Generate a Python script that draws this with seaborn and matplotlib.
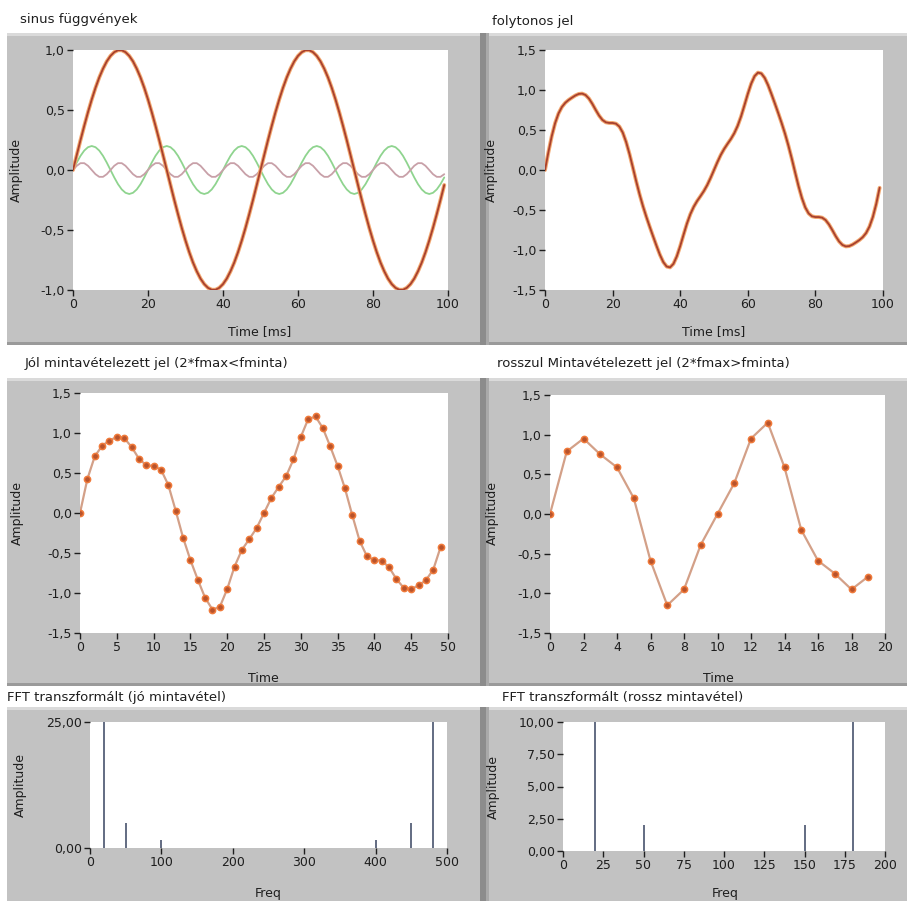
import matplotlib
matplotlib.use("Agg")
import matplotlib.pyplot as plt
from matplotlib.patches import Rectangle
from matplotlib.ticker import FuncFormatter, MultipleLocator
import seaborn as sns

# ---------------- data ----------------
time_ms = list(range(100))

sine_20hz = [
    0.000, 0.125, 0.249, 0.368, 0.482, 0.588, 0.685, 0.771, 0.844, 0.905,
    0.951, 0.982, 0.998, 0.998, 0.982, 0.951, 0.905, 0.844, 0.771, 0.685,
    0.588, 0.482, 0.368, 0.249, 0.125, 0.000, -0.125, -0.249, -0.368, -0.482,
    -0.588, -0.685, -0.771, -0.844, -0.905, -0.951, -0.982, -0.998, -0.998, -0.982,
    -0.951, -0.905, -0.844, -0.771, -0.685, -0.588, -0.482, -0.368, -0.249, -0.125,
    0.000, 0.125, 0.249, 0.368, 0.482, 0.588, 0.685, 0.771, 0.844, 0.905,
    0.951, 0.982, 0.998, 0.998, 0.982, 0.951, 0.905, 0.844, 0.771, 0.685,
    0.588, 0.482, 0.368, 0.249, 0.125, 0.000, -0.125, -0.249, -0.368, -0.482,
    -0.588, -0.685, -0.771, -0.844, -0.905, -0.951, -0.982, -0.998, -0.998, -0.982,
    -0.951, -0.905, -0.844, -0.771, -0.685, -0.588, -0.482, -0.368, -0.249, -0.125,
]

sine_50hz = [
    0.000, 0.062, 0.118, 0.162, 0.190, 0.200, 0.190, 0.162, 0.118, 0.062,
    0.000, -0.062, -0.118, -0.162, -0.190, -0.200, -0.190, -0.162, -0.118, -0.062,
    0.000, 0.062, 0.118, 0.162, 0.190, 0.200, 0.190, 0.162, 0.118, 0.062,
    0.000, -0.062, -0.118, -0.162, -0.190, -0.200, -0.190, -0.162, -0.118, -0.062,
    0.000, 0.062, 0.118, 0.162, 0.190, 0.200, 0.190, 0.162, 0.118, 0.062,
    0.000, -0.062, -0.118, -0.162, -0.190, -0.200, -0.190, -0.162, -0.118, -0.062,
    0.000, 0.062, 0.118, 0.162, 0.190, 0.200, 0.190, 0.162, 0.118, 0.062,
    0.000, -0.062, -0.118, -0.162, -0.190, -0.200, -0.190, -0.162, -0.118, -0.062,
    0.000, 0.062, 0.118, 0.162, 0.190, 0.200, 0.190, 0.162, 0.118, 0.062,
    0.000, -0.062, -0.118, -0.162, -0.190, -0.200, -0.190, -0.162, -0.118, -0.062,
]

sine_100hz = [
    0.000, 0.035, 0.057, 0.057, 0.035, 0.000, -0.035, -0.057, -0.057, -0.035,
    0.000, 0.035, 0.057, 0.057, 0.035, 0.000, -0.035, -0.057, -0.057, -0.035,
    0.000, 0.035, 0.057, 0.057, 0.035, 0.000, -0.035, -0.057, -0.057, -0.035,
    0.000, 0.035, 0.057, 0.057, 0.035, 0.000, -0.035, -0.057, -0.057, -0.035,
    0.000, 0.035, 0.057, 0.057, 0.035, 0.000, -0.035, -0.057, -0.057, -0.035,
    0.000, 0.035, 0.057, 0.057, 0.035, 0.000, -0.035, -0.057, -0.057, -0.035,
    0.000, 0.035, 0.057, 0.057, 0.035, 0.000, -0.035, -0.057, -0.057, -0.035,
    0.000, 0.035, 0.057, 0.057, 0.035, 0.000, -0.035, -0.057, -0.057, -0.035,
    0.000, 0.035, 0.057, 0.057, 0.035, 0.000, -0.035, -0.057, -0.057, -0.035,
    0.000, 0.035, 0.057, 0.057, 0.035, 0.000, -0.035, -0.057, -0.057, -0.035,
]

continuous = [
    0.000, 0.222, 0.424, 0.587, 0.707, 0.788, 0.840, 0.876, 0.905, 0.932,
    0.951, 0.955, 0.937, 0.893, 0.827, 0.751, 0.680, 0.625, 0.596, 0.588,
    0.588, 0.579, 0.543, 0.468, 0.350, 0.200, 0.030, -0.144, -0.307, -0.455,
    -0.588, -0.712, -0.832, -0.949, -1.060, -1.151, -1.207, -1.217, -1.173, -1.079,
    -0.951, -0.808, -0.669, -0.552, -0.460, -0.388, -0.327, -0.263, -0.188, -0.098,
    0.000, 0.098, 0.188, 0.263, 0.327, 0.388, 0.460, 0.552, 0.669, 0.808,
    0.951, 1.079, 1.173, 1.217, 1.207, 1.151, 1.060, 0.949, 0.832, 0.712,
    0.588, 0.455, 0.307, 0.144, -0.030, -0.200, -0.350, -0.468, -0.543, -0.579,
    -0.588, -0.588, -0.596, -0.625, -0.680, -0.751, -0.827, -0.893, -0.937, -0.955,
    -0.951, -0.932, -0.905, -0.876, -0.840, -0.788, -0.707, -0.587, -0.424, -0.222,
]

good_index = list(range(50))
good_samples = [
    0.000, 0.424, 0.707, 0.840, 0.905, 0.951, 0.937, 0.827, 0.680, 0.596,
    0.588, 0.543, 0.350, 0.030, -0.307, -0.588, -0.832, -1.060, -1.207, -1.173,
    -0.951, -0.669, -0.460, -0.327, -0.188, 0.000, 0.188, 0.327, 0.460, 0.669,
    0.951, 1.173, 1.207, 1.060, 0.832, 0.588, 0.307, -0.030, -0.350, -0.543,
    -0.588, -0.596, -0.680, -0.827, -0.937, -0.951, -0.905, -0.840, -0.707, -0.424,
]

bad_index = list(range(20))
bad_samples = [
    0.000, 0.788, 0.951, 0.751, 0.588, 0.200, -0.588, -1.151, -0.951, -0.388,
    0.000, 0.388, 0.951, 1.151, 0.588, -0.200, -0.588, -0.751, -0.951, -0.788,
]

fft_good_freq = [20, 50, 100, 400, 450, 480]
fft_good_mag = [25.0, 5.0, 1.5, 1.5, 5.0, 25.0]
fft_bad_freq = [20, 50, 150, 180]
fft_bad_mag = [10.0, 2.0, 2.0, 10.0]

titles = [
    "sinus függvények", "folytonos jel",
    "Jól mintavételezett jel (2*fmax<fminta)",
    "rosszul Mintavételezett jel (2*fmax>fminta)",
    "FFT transzformált (jó mintavétel)",
    "FFT transzformált (rossz mintavétel)",
]

# ---------------- style ----------------
sns.set_style("white")
plt.rcParams["font.family"] = ["DejaVu Sans"]
plt.rcParams["font.size"] = 9
plt.rcParams["axes.unicode_minus"] = False

W, H = 907, 901
fig = plt.figure(figsize=(W / 100, H / 100), dpi=100)
fig.patch.set_facecolor("white")

TXT = "#1e1e1e"
FRAME = "#c2c2c2"


def rect(x0, y0, x1, y1, color, z=-5):
    fig.add_artist(Rectangle((x0 / W, 1 - y1 / H), (x1 - x0) / W, (y1 - y0) / H,
                             transform=fig.transFigure, facecolor=color,
                             edgecolor="none", zorder=z))


def frame(x0, y0, x1, y1, right=False, bottom_shadow=True):
    rect(x0, y0, x1, y1, FRAME)
    rect(x0, y0, x1, y0 + 3, "#dadada", -4)
    if bottom_shadow:
        rect(x0, y1 - 3, x1, y1, "#9a9a9a", -4)
    if right:
        rect(x0, y0, x0 + 6, y1, "#8c8c8c", -3)
        rect(x0 + 6, y0, x0 + 9, y1, "#a9a9a9", -3)


rows = [(33, 345), (378, 686), (707, 901)]
for i, (y0, y1) in enumerate(rows):
    frame(7, y0, 480, y1, bottom_shadow=(i < 2))
    frame(480, y0, 907, y1, right=True, bottom_shadow=(i < 2))


def axes_px(x0, y0, x1, y1):
    ax = fig.add_axes([x0 / W, 1 - y1 / H, (x1 - x0) / W, (y1 - y0) / H])
    ax.set_facecolor("white")
    for s in ax.spines.values():
        s.set_visible(False)
    ax.tick_params(axis="both", direction="out", length=4, width=1,
                   colors=TXT, labelsize=9, pad=2, left=True, bottom=True)
    return ax


def comma(dec):
    return FuncFormatter(lambda v, p: f"{v:.{dec}f}".replace(".", ","))


def ftext(x, y, s, **kw):
    fig.text(x / W, 1 - y / H, s, color=TXT, **kw)


# ---------- row 1 left: sine components ----------
ax1 = axes_px(73, 50, 448, 290)
sns.lineplot(x=time_ms, y=sine_50hz, ax=ax1, color="#8fd48f", lw=1.3)
sns.lineplot(x=time_ms, y=sine_100hz, ax=ax1, color="#c8a0a8", lw=1.3)
sns.lineplot(x=time_ms, y=sine_20hz, ax=ax1, color="#f2a870", lw=2.8)
sns.lineplot(x=time_ms, y=sine_20hz, ax=ax1, color="#a8402e", lw=1.3)
ax1.set_xlim(0, 100)
ax1.set_ylim(-1.0, 1.0)
ax1.set_yticks([-1.0, -0.5, 0.0, 0.5, 1.0])
ax1.set_xticks([0, 20, 40, 60, 80, 100])
ax1.yaxis.set_major_formatter(comma(1))

# ---------- row 1 right: continuous ----------
ax2 = axes_px(545, 50, 883, 290)
sns.lineplot(x=time_ms, y=continuous, ax=ax2, color="#f2a870", lw=2.8)
sns.lineplot(x=time_ms, y=continuous, ax=ax2, color="#a8402e", lw=1.3)
ax2.set_xlim(0, 100)
ax2.set_ylim(-1.5, 1.5)
ax2.set_yticks([-1.5, -1.0, -0.5, 0.0, 0.5, 1.0, 1.5])
ax2.set_xticks([0, 20, 40, 60, 80, 100])
ax2.yaxis.set_major_formatter(comma(1))

# ---------- row 2 left: good sampling ----------
ax3 = axes_px(80, 393, 448, 633)
sns.lineplot(x=good_index, y=good_samples, ax=ax3, color="#d3a088", lw=1.6)
sns.scatterplot(x=good_index, y=good_samples, ax=ax3, s=20, color="#b8532c",
                edgecolor="#f07a3a", linewidth=1.1, zorder=3)
ax3.set_xlim(0, 50)
ax3.set_ylim(-1.5, 1.5)
ax3.set_yticks([-1.5, -1.0, -0.5, 0.0, 0.5, 1.0, 1.5])
ax3.set_xticks(list(range(0, 51, 5)))
ax3.yaxis.set_major_formatter(comma(1))

# ---------- row 2 right: bad sampling ----------
ax4 = axes_px(550, 395, 885, 633)
sns.lineplot(x=bad_index, y=bad_samples, ax=ax4, color="#d3a088", lw=1.6)
sns.scatterplot(x=bad_index, y=bad_samples, ax=ax4, s=20, color="#b8532c",
                edgecolor="#f07a3a", linewidth=1.1, zorder=3)
ax4.set_xlim(0, 20)
ax4.set_ylim(-1.5, 1.5)
ax4.set_yticks([-1.5, -1.0, -0.5, 0.0, 0.5, 1.0, 1.5])
ax4.set_xticks(list(range(0, 21, 2)))
ax4.yaxis.set_major_formatter(comma(1))

# ---------- row 3 left: FFT good ----------
ax5 = axes_px(90, 722, 447, 848)
ax5.vlines(fft_good_freq, 0, fft_good_mag, color="#566078", lw=1.3)
ax5.set_xlim(0, 500)
ax5.set_ylim(0, 25)
ax5.set_yticks([0, 25])
ax5.set_xticks([0, 100, 200, 300, 400, 500])
ax5.yaxis.set_major_formatter(comma(2))
ax5.xaxis.set_minor_locator(MultipleLocator(10))
ax5.tick_params(axis="x", which="minor", direction="in", length=3,
                color="#b8b8c8", width=1)

# ---------- row 3 right: FFT bad ----------
ax6 = axes_px(563, 722, 885, 851)
ax6.vlines(fft_bad_freq, 0, fft_bad_mag, color="#566078", lw=1.3)
ax6.set_xlim(0, 200)
ax6.set_ylim(0, 10)
ax6.set_yticks([0, 2.5, 5, 7.5, 10])
ax6.set_xticks([0, 25, 50, 75, 100, 125, 150, 175, 200])
ax6.yaxis.set_major_formatter(comma(2))
ax6.xaxis.set_minor_locator(MultipleLocator(10))
ax6.tick_params(axis="x", which="minor", direction="in", length=3,
                color="#b8b8c8", width=1)

for ax in (ax1, ax2, ax3, ax4, ax5, ax6):
    ax.set_xlabel("")
    ax.set_ylabel("")

# ---------- texts ----------
ftext(20, 20, titles[0], ha="left", va="center", fontsize=9.5)
ftext(492, 22, titles[1], ha="left", va="center", fontsize=9.5)
ftext(25, 363, titles[2], ha="left", va="center", fontsize=9.5)
ftext(497, 363, titles[3], ha="left", va="center", fontsize=9.5)
ftext(7, 697, titles[4], ha="left", va="center", fontsize=9.5)
ftext(502, 697, titles[5], ha="left", va="center", fontsize=9.5)

for (x, y) in [(16, 170), (491, 170), (17, 513), (492, 513), (20, 785), (493, 787)]:
    ftext(x, y, "Amplitude", rotation=90, ha="center", va="center", fontsize=9)

ftext(260, 332, "Time [ms]", ha="center", va="center", fontsize=9)
ftext(714, 332, "Time [ms]", ha="center", va="center", fontsize=9)
ftext(263, 678, "Time", ha="center", va="center", fontsize=9)
ftext(718, 678, "Time", ha="center", va="center", fontsize=9)
ftext(268, 893, "Freq", ha="center", va="center", fontsize=9)
ftext(725, 893, "Freq", ha="center", va="center", fontsize=9)

fig.savefig("out.png", dpi=100)
